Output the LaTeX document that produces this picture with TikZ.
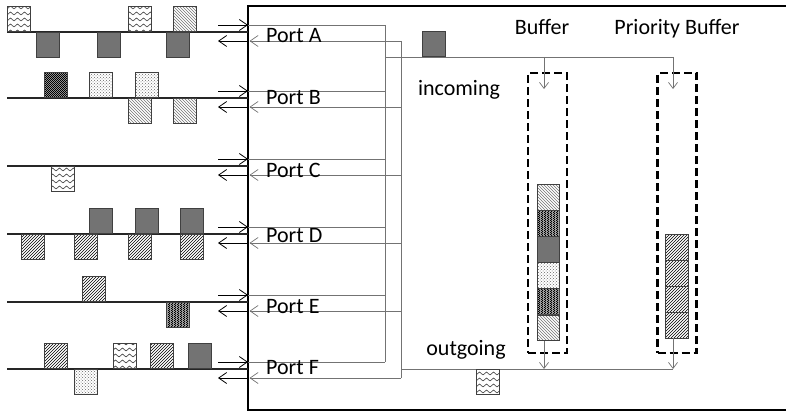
\documentclass[tikz,border=0pt]{standalone}
\usepackage{fontspec}
\setmainfont{Carlito}
\usetikzlibrary{%
  arrows.meta,% open barbs
  patterns,%
  positioning% wg. " of "
}

% zigzag fill for some packets
\pgfdeclarepatternformonly{zigzag}{\pgfqpoint{-1pt}{-1pt}}{\pgfqpoint{8pt}{7pt}}{\pgfqpoint{7pt}{6pt}}{%
  \pgfsetlinewidth{0.6pt}
  \pgfpathmoveto{\pgfqpoint{0pt}{1pt}}
  \pgfpathlineto{\pgfqpoint{3.5pt}{4pt}}
  \pgfpathlineto{\pgfqpoint{7pt}{1pt}}
  \pgfusepath{stroke}}
% fine checker
\pgfdeclarepatternformonly{finecheck}{\pgfpointorigin}{\pgfqpoint{2.4pt}{2.4pt}}{\pgfqpoint{2.4pt}{2.4pt}}{%
  \pgfpathrectangle{\pgfpointorigin}{\pgfqpoint{1.2pt}{1.2pt}}
  \pgfpathrectangle{\pgfqpoint{1.2pt}{1.2pt}}{\pgfqpoint{1.2pt}{1.2pt}}
  \pgfusepath{fill}}

\begin{document}
\begin{tikzpicture}[x=1pt, y=-1pt,
  every node/.style = {font=\fontsize{22}{26}\selectfont, inner sep=0pt},
  pkt/.style = {draw=black!75, line width=0.6pt,
    minimum width=23pt, minimum height=25pt},
  sit/.style = {pkt, anchor=south west},
  hang/.style = {pkt, anchor=north west},
  pwave/.style = {pattern=zigzag, pattern color=black!75},
  plight/.style = {pattern=north west lines, pattern color=black!55},
  phatch/.style = {pattern=north east lines, pattern color=black},
  pcheck/.style = {preaction={fill=black!35}, pattern=finecheck, pattern color=black},
  pgrey/.style = {fill=black!55},
  pdots/.style = {pattern=crosshatch dots, pattern color=black!60},
  link/.style = {line width=1.6pt, black!85},
  tip/.style = {-{Straight Barb[length=8pt, width=11pt]}, line width=0.8pt},
  wire/.style = {black!55, line width=0.7pt},
  small tip/.style = {-{Straight Barb[length=6pt, width=9pt]}},
  bin/.style = {draw, dash pattern=on 8pt off 4pt, line width=2.5pt,
    minimum width=39pt, minimum height=280pt}]

  \useasboundingbox (0,0) rectangle (786,412);

  % the switch
  \draw[line width=2.5pt] (800,6) -- (248,6) -- (248,410) -- (800,410);

  % ports
  \foreach \n/\y/\b in {A/32/43, B/98/104, C/166/177, D/234/242, E/302/313, F/369/374} {
    \coordinate (l\n) at (7,\y);
    \coordinate (e\n) at (248,\y);
    \coordinate (ai\n) at (218,\y-7);
    \coordinate (i\n) at (248,\y-7);
    \coordinate (vi\n) at (385,\y-7);
    \coordinate (ao\n) at (218,\y+9);
    \coordinate (o\n) at (248,\y+9);
    \coordinate (vo\n) at (401,\y+9);
    \draw[link] (l\n) -- (e\n);
    \draw[tip] (ai\n) -- (i\n);
    \draw[tip] (o\n) -- (ao\n);
    \draw[wire] (i\n) -- (vi\n);
    \draw[wire, tip, line width=0.7pt] (vo\n) -- ([xshift=1.5pt]o\n);
    \node[anchor=base west] (p\n) at (266,\b) {Port \n};
  }
  \draw[wire] (viA) -- (viF);
  \draw[wire] (voA) -- (voF);

  % packets on the links
  \node[sit, pwave]  (a1) at (7,32) {};
  \node[sit, pwave]  (a2) at (128,32) {};
  \node[sit, plight] (a3) at (173,32) {};
  \node[hang, pgrey] (a4) at (36,32) {};
  \node[hang, pgrey] (a5) at (97,32) {};
  \node[hang, pgrey] (a6) at (166,32) {};

  \node[sit, pcheck]  (b1) at (44,98) {};
  \node[sit, pdots]   (b2) at (89,98) {};
  \node[sit, pdots]   (b3) at (135,98) {};
  \node[hang, plight] (b4) at (128,98) {};
  \node[hang, plight] (b5) at (173,98) {};

  \node[hang, pwave] (c1) at (51,166) {};

  \node[sit, pgrey]   (d1) at (89,234) {};
  \node[sit, pgrey]   (d2) at (135,234) {};
  \node[sit, pgrey]   (d3) at (180,234) {};
  \node[hang, phatch] (d4) at (21,234) {};
  \node[hang, phatch] (d5) at (74,234) {};
  \node[hang, phatch] (d6) at (128,234) {};
  \node[hang, phatch] (d7) at (180,234) {};

  \node[sit, phatch]  (e1) at (82,302) {};
  \node[hang, pcheck] (e2) at (166,302) {};

  \node[sit, phatch] (f1) at (44,369) {};
  \node[sit, pwave]  (f2) at (113,369) {};
  \node[sit, phatch] (f3) at (150,369) {};
  \node[sit, pgrey]  (f4) at (188,369) {};
  \node[hang, pdots] (f5) at (74,369) {};

  % buffers
  \node[bin] (buf) at (547.5,213) {};
  \node[bin] (pbuf) at (677,213) {};
  \node[anchor=base] (tbuf) at (542,35) {Buffer};
  \node[anchor=base] (tpbuf) at (677,35) {Priority Buffer};

  \node[pkt, plight, minimum width=22pt, minimum height=25.5pt, anchor=north] (s1) at (548,184) {};
  \node[pkt, pcheck, minimum width=22pt, minimum height=25.5pt, below=0pt of s1] (s2) {};
  \node[pkt, pgrey, minimum width=22pt, minimum height=25.5pt, below=0pt of s2] (s3) {};
  \node[pkt, pdots, minimum width=22pt, minimum height=25.5pt, below=0pt of s3] (s4) {};
  \node[pkt, pcheck, minimum width=22pt, minimum height=25.5pt, below=0pt of s4] (s5) {};
  \node[pkt, plight, minimum width=22pt, minimum height=25.5pt, below=0pt of s5] (s6) {};

  \node[pkt, phatch, minimum width=23pt, minimum height=25.5pt, anchor=north] (r1) at (676.5,234) {};
  \node[pkt, phatch, minimum width=23pt, minimum height=25.5pt, below=0pt of r1] (r2) {};
  \node[pkt, phatch, minimum width=23pt, minimum height=25.5pt, below=0pt of r2] (r3) {};
  \node[pkt, phatch, minimum width=23pt, minimum height=25.5pt, below=0pt of r3] (r4) {};

  % incoming side
  \coordinate (in0) at (385,57);
  \coordinate (in1) at (544,57);
  \coordinate (in2) at (673,57);
  \coordinate (inb) at (544,89);
  \coordinate (inp) at (673,89);
  \draw[wire] (in0) -- (in2);
  \draw[wire, small tip] (in1) -- (inb);
  \draw[wire, small tip] (in2) -- (inp);
  \node[anchor=base] (tin) at (459,95) {incoming};
  \node[sit, pgrey] (pin) at (422,57) {};

  % outgoing side
  \coordinate (out0) at (401,369);
  \coordinate (out1) at (544,369);
  \coordinate (out2) at (673,369);
  \draw[wire] (out0) -- (out2);
  \draw[wire, small tip] (s6.south -| out1) -- (out1);
  \draw[wire, small tip] (r4.south -| out2) -- (out2);
  \node[anchor=base] (tout) at (466,355) {outgoing};
  \node[hang, pwave] (pout) at (476,369) {};
\end{tikzpicture}
\end{document}
